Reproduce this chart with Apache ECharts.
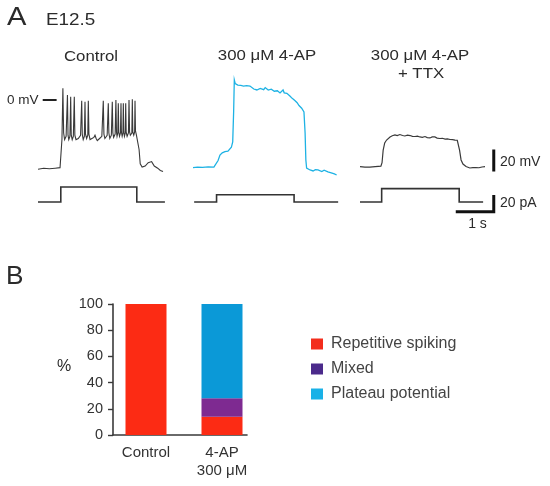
<!DOCTYPE html>
<html>
<head>
<meta charset="utf-8">
<script src="https://cdn.jsdelivr.net/npm/echarts@6/dist/echarts.min.js"></script>
<style>
  html, body { margin: 0; padding: 0; background: #fff; }
  #main { width: 550px; height: 486px; }
</style>
</head>
<body>
<div id="main"></div>
<script>
// ---- panel A : membrane potential (s, mV) and injected current (s, pA) ----
var controlVm = [
    [0, -63], [0.15, -62], [0.3, -62.5], [0.45, -62], [0.58, -61.5], [0.61, -60],
    [0.63, -36], [0.655, 10.6], [0.675, -30], [0.70, -36], [0.74, -33], [0.775, 4.5], [0.79, -32],
    [0.81, -36], [0.84, -33], [0.86, 3], [0.875, -32], [0.90, -36], [0.93, -33], [0.955, 3],
    [0.97, -32], [1.0, -36], [1.06, -35], [1.12, -32], [1.15, -0.6], [1.165, -31], [1.19, -36],
    [1.22, -33], [1.237, -1.5], [1.25, -31], [1.28, -35], [1.31, -32], [1.324, -0.6], [1.34, -31],
    [1.37, -36], [1.42, -35], [1.47, -34], [1.5, -32], [1.53, -35], [1.56, -37], [1.62, -35],
    [1.68, -33], [1.718, -0.6], [1.735, -31], [1.76, -35], [1.82, -32], [1.85, -3], [1.865, -30],
    [1.89, -35], [1.93, -32], [1.955, -1.5], [1.97, -30], [1.99, -34], [2.03, -31], [2.05, 0],
    [2.065, -29], [2.08, -33], [2.10, -30], [2.113, -3], [2.125, -29], [2.145, -33], [2.17, -30],
    [2.184, -3], [2.195, -29], [2.215, -33], [2.235, -30], [2.245, -3], [2.258, -29], [2.275, -33],
    [2.298, -30], [2.308, -3], [2.32, -29], [2.345, -33], [2.38, -30], [2.395, 0], [2.41, -29],
    [2.43, -32], [2.47, -30], [2.482, 0.6], [2.495, -29], [2.52, -32], [2.543, -29], [2.553, -0.6],
    [2.565, -28], [2.59, -32], [2.63, -33], [2.66, -45], [2.69, -58], [2.74, -61], [2.82, -60],
    [2.9, -57], [2.99, -56], [3.06, -60], [3.15, -62], [3.22, -64], [3.29, -65]
];
var controlI = [[0, 0], [0.6, 0], [0.6, 18], [2.6, 18], [2.6, 0], [3.34, 0]];

var apVm = [
    [0, -61.5], [0.12, -61], [0.25, -61.3], [0.4, -60.8], [0.55, -61], [0.6, -60.6], [0.66, -55],
    [0.71, -50], [0.77, -48], [0.84, -47], [0.92, -46.5], [0.97, -45.5], [1.01, -43], [1.045, -38],
    [1.07, -10], [1.087, 18.2], [1.11, 15], [1.14, 14], [1.18, 13.6], [1.22, 14.8], [1.26, 13.2],
    [1.29, 14.5], [1.33, 12.7], [1.37, 11.8], [1.41, 13], [1.45, 12.4], [1.5, 12.7], [1.55, 11.2],
    [1.6, 10], [1.64, 11], [1.68, 9.1], [1.72, 10.3], [1.77, 10.6], [1.82, 10.9], [1.86, 9.4],
    [1.9, 11.3], [1.94, 10.6], [1.98, 9], [2.03, 8.2], [2.06, 9.8], [2.1, 10], [2.14, 8], [2.18, 7.3],
    [2.22, 8.4], [2.26, 6.8], [2.29, 6.4], [2.33, 8.2], [2.37, 9.1], [2.4, 6.5], [2.44, 7.3],
    [2.47, 6.1], [2.51, 4.5], [2.55, 3.6], [2.58, 4.4], [2.61, 1.5], [2.64, 0], [2.68, -0.5],
    [2.71, -1.8], [2.74, -2.5], [2.76, -3.6], [2.79, -5], [2.82, -6.6], [2.86, -7.5], [2.89, -9.1],
    [2.92, -10.9], [2.95, -30], [2.97, -54.5], [2.99, -62], [3.04, -63.5], [3.08, -63.6],
    [3.12, -64.8], [3.16, -64.5], [3.22, -63.4], [3.29, -63.6], [3.34, -65], [3.39, -65],
    [3.45, -63.8], [3.5, -64], [3.55, -65.3], [3.6, -65.5], [3.66, -66.5], [3.72, -67.2], [3.78, -68.2]
];
var apI = [[0.03, 0], [0.62, 0], [0.62, 8.7], [2.66, 8.7], [2.66, 0], [3.82, 0]];

var ttxVm = [
    [0, -60.6], [0.13, -61], [0.26, -61], [0.4, -60.5], [0.55, -60.2], [0.58, -57], [0.61, -45.5],
    [0.65, -39], [0.7, -36.4], [0.79, -33.6], [0.85, -32.5], [0.92, -31.8], [0.98, -32.4],
    [1.05, -31.4], [1.12, -32.3], [1.18, -32.7], [1.25, -32], [1.32, -32.3], [1.38, -33],
    [1.45, -33.2], [1.51, -32.8], [1.58, -33.6], [1.64, -33.9], [1.71, -33.2], [1.77, -34.2],
    [1.84, -34.5], [1.9, -33.6], [1.97, -33.6], [2.03, -34.6], [2.1, -35], [2.17, -34.8],
    [2.24, -35.5], [2.3, -35.4], [2.37, -35.9], [2.44, -36], [2.5, -36.4], [2.56, -36.6],
    [2.59, -37.3], [2.62, -45.5], [2.66, -54.5], [2.71, -58.2], [2.79, -60.5], [2.89, -61.8],
    [2.97, -61.5], [3.05, -61.4], [3.13, -61.6], [3.21, -60.9], [3.29, -60.5]
];
var ttxI = [[0, 0], [0.57, 0], [0.57, 16], [2.61, 16], [2.61, 0], [3.24, 0]];

// scale bars: 20 mV, 20 pA, 1 s ; 0 mV marker
var barVm = [[3.52, -45], [3.52, -65]];
var barI = [[2.52, -11.6], [3.52, -11.6], [3.52, 8.4]];
var zeroMark = [[0.124, 0], [0.49, 0]];

// ---- panel B : firing type (%) ----
var categories = ['Control', '4-AP\n300 \u03bcM'];
var spiking = [100, 14];
var mixed = [0, 14];
var plateau = [0, 72];

var FONT = 'Liberation Sans';
var chart = echarts.init(document.getElementById('main'));

var colLeft = [38, 193, 360];
var grids = [], xAxes = [], yAxes = [];
for (var i = 0; i < 3; i++) {
    grids.push({ left: colLeft[i], top: 78, width: 148.2, height: 143, outerBoundsMode: 'none' });
    xAxes.push({ type: 'value', gridIndex: i, min: 0, max: 3.9, show: false });
    yAxes.push({ type: 'value', gridIndex: i, min: -110, max: 20, show: false });
    yAxes.push({ type: 'value', gridIndex: i, min: -22.8, max: 148.5, show: false });
}
// panel B: axis frame grid + bar grid
grids.push({ left: 113, top: 304, width: 134, height: 131, outerBoundsMode: 'none' });
grids.push({ left: 108, top: 304, width: 152, height: 131, outerBoundsMode: 'none' });
xAxes.push({
    type: 'value', gridIndex: 3, min: 0, max: 1,
    axisLine: { show: true, lineStyle: { color: '#3a3a3a', width: 1.6 } },
    axisTick: { show: false }, axisLabel: { show: false }, splitLine: { show: false }
});
yAxes.push({
    type: 'value', gridIndex: 3, min: 0, max: 100, interval: 20,
    axisLine: { show: true, lineStyle: { color: '#3a3a3a', width: 1.6 } },
    axisTick: { show: true, length: 5, lineStyle: { color: '#3a3a3a', width: 1.4 } },
    axisLabel: { fontSize: 14.5, color: '#333', fontFamily: FONT, margin: 10 },
    splitLine: { show: false }
});
xAxes.push({
    type: 'category', gridIndex: 4, data: categories,
    axisLine: { show: false }, axisTick: { show: false },
    axisLabel: { fontSize: 15, color: '#333', fontFamily: FONT, margin: 9, lineHeight: 18 }
});
yAxes.push({ type: 'value', gridIndex: 4, min: 0, max: 100, show: false });

function trace(data, xi, yi, color, w) {
    return {
        type: 'line', xAxisIndex: xi, yAxisIndex: yi, data: data,
        showSymbol: false, symbol: 'none', silent: true, clip: false,
        lineStyle: { color: color, width: w, join: 'miter' }
    };
}

function txt(t, x, y, size, align, sx) {
    return {
        type: 'text', x: x, y: y, scaleX: sx || 1, silent: true,
        style: {
            text: t, fill: '#2b2b2b', fontSize: size, fontFamily: FONT,
            textAlign: align, align: align, textVerticalAlign: 'middle', verticalAlign: 'middle'
        }
    };
}

var option = {
    backgroundColor: '#fff',
    animation: false,
    grid: grids,
    xAxis: xAxes,
    yAxis: yAxes,
    legend: {
        orient: 'vertical', left: 311, top: 336, padding: 0,
        itemWidth: 12, itemHeight: 11, itemGap: 9, icon: 'rect',
        textStyle: { fontSize: 16, color: '#444', fontFamily: FONT, padding: [0, 0, 0, 3] },
        data: [
            { name: 'Repetitive spiking', itemStyle: { color: '#f32d1c' } },
            { name: 'Mixed', itemStyle: { color: '#4b2a8b' } },
            { name: 'Plateau potential', itemStyle: { color: '#19b1e7' } }
        ]
    },
    graphic: [
        txt('A', 7, 18, 26, 'left', 1.12),
        txt('E12.5', 46, 21, 16, 'left', 1.18),
        txt('Control', 91, 57, 15, 'center', 1.12),
        txt('300 \u03bcM 4-AP', 267, 56, 15, 'center', 1.12),
        txt('300 \u03bcM 4-AP', 420, 56, 15, 'center', 1.12),
        txt('+ TTX', 421, 74, 15, 'center', 1.12),
        txt('0 mV', 38.5, 100, 13.5, 'right'),
        txt('20 mV', 500, 162, 14, 'left'),
        txt('20 pA', 500, 203.5, 14, 'left'),
        txt('1 s', 477.5, 224, 14, 'center'),
        txt('B', 6, 277, 25, 'left', 1.05),
        txt('%', 64, 367, 16, 'center')
    ],
    series: [
        trace(controlVm, 0, 0, '#3a3a3a', 1.1),
        trace(controlI, 0, 1, '#333', 1.6),
        trace(zeroMark, 0, 0, '#222', 2),
        trace(apVm, 1, 2, '#1eb2e4', 1.3),
        trace(apI, 1, 3, '#333', 1.6),
        trace(ttxVm, 2, 4, '#3a3a3a', 1.2),
        trace(ttxI, 2, 5, '#333', 1.6),
        trace(barVm, 2, 4, '#111', 3),
        trace(barI, 2, 5, '#111', 3),
        {
            name: 'Repetitive spiking', type: 'bar', stack: 'pct', xAxisIndex: 4, yAxisIndex: 7,
            data: spiking, barWidth: 41, itemStyle: { color: '#fc2b14' }, silent: true
        },
        {
            name: 'Mixed', type: 'bar', stack: 'pct', xAxisIndex: 4, yAxisIndex: 7,
            data: mixed, barWidth: 41, itemStyle: { color: '#7e2a91' }, silent: true
        },
        {
            name: 'Plateau potential', type: 'bar', stack: 'pct', xAxisIndex: 4, yAxisIndex: 7,
            data: plateau, barWidth: 41, itemStyle: { color: '#0b99d7' }, silent: true
        }
    ]
};
chart.setOption(option);
</script>
</body>
</html>
